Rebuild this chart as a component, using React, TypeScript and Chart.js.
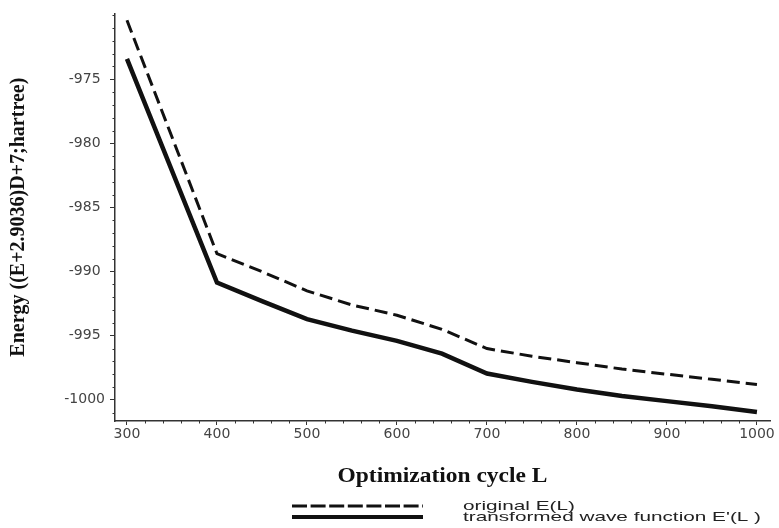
import React, { useEffect, useRef } from 'react';
import { Chart, registerables } from 'chart.js';

Chart.register(...registerables);

const cycles = [300, 400, 450, 500, 550, 600, 650, 700, 750, 800, 850, 900, 950, 1000];
const originalE = [-970.4, -988.6, -990.0, -991.5, -992.6, -993.4, -994.5, -996.0, -996.6, -997.1, -997.6, -998.0, -998.4, -998.8];
const transformedE = [-973.4, -990.85, -992.3, -993.7, -994.6, -995.4, -996.4, -997.95, -998.6, -999.2, -999.7, -1000.1, -1000.5, -1000.95];
const xTickValues = [300, 400, 500, 600, 700, 800, 900, 1000];
const yTickValues = [-1000, -995, -990, -985, -980, -975];
const seriesLabels = ['original E(L)', "transformed wave function E'(L )"];
const xTitle = 'Optimization cycle L';
const yTitle = 'Energy ((E+2.9036)D+7;hartree)';
const xMinorStep = 20;
const yMinorStep = 1;

const AXIS_COLOR = '#333';
const LINE_COLOR = '#111';

const minorTicksPlugin = {
  id: 'minorTicks',
  afterDraw(chart: any) {
    const ctx = chart.ctx;
    const xs = chart.scales.x;
    const ys = chart.scales.y;
    ctx.save();
    ctx.strokeStyle = AXIS_COLOR;
    ctx.lineWidth = 1;
    ctx.beginPath();
    for (let v = Math.ceil(xs.min / xMinorStep) * xMinorStep; v <= xs.max; v += xMinorStep) {
      if (xTickValues.includes(v)) continue;
      const px = Math.round(xs.getPixelForValue(v)) + 0.5;
      ctx.moveTo(px, xs.top);
      ctx.lineTo(px, xs.top + 2.5);
    }
    for (let v = Math.ceil(ys.min / yMinorStep) * yMinorStep; v <= ys.max; v += yMinorStep) {
      if (yTickValues.includes(v)) continue;
      const py = Math.round(ys.getPixelForValue(v)) + 0.5;
      ctx.moveTo(ys.right - 2.5, py);
      ctx.lineTo(ys.right, py);
    }
    ctx.stroke();
    ctx.restore();
  },
};

function stretchedText(ctx: any, text: string, x: number, y: number, targetWidth: number, align: 'left' | 'center') {
  const w = ctx.measureText(text).width;
  const sx = targetWidth / w;
  ctx.save();
  ctx.translate(x, y);
  ctx.scale(sx, 1);
  ctx.textAlign = align;
  ctx.fillText(text, 0, 0);
  ctx.restore();
}

const textPlugin = {
  id: 'customText',
  afterDraw(chart: any) {
    const ctx = chart.ctx;
    const area = chart.chartArea;
    ctx.save();
    // x-axis title
    ctx.fillStyle = '#111';
    ctx.font = 'bold 20px "Liberation Serif", "Times New Roman", serif';
    ctx.textBaseline = 'middle';
    stretchedText(ctx, xTitle, (area.left + area.right) / 2, 477, 210, 'center');

    // legend
    const rows = [506, 517];
    const x0 = 292;
    const x1 = 423;
    const tx = 463;
    chart.data.datasets.forEach((ds: any, i: number) => {
      const y = rows[i];
      ctx.strokeStyle = ds.borderColor;
      ctx.lineWidth = i === 0 ? 3 : 4;
      ctx.setLineDash(i === 0 ? [15, 3.6] : []);
      ctx.lineCap = 'butt';
      ctx.beginPath();
      ctx.moveTo(x0, y);
      ctx.lineTo(x1, y);
      ctx.stroke();
      ctx.setLineDash([]);
    });
    ctx.fillStyle = '#222';
    ctx.font = '13px "Liberation Sans", Arial, sans-serif';
    ctx.textBaseline = 'middle';
    const w1 = ctx.measureText(chart.data.datasets[1].label).width;
    const sx = 298 / w1;
    chart.data.datasets.forEach((ds: any, i: number) => {
      stretchedText(ctx, ds.label, tx, rows[i], ctx.measureText(ds.label).width * sx, 'left');
    });
    ctx.restore();
  },
};

export default function App() {
  const canvasRef = useRef<HTMLCanvasElement | null>(null);

  useEffect(() => {
    const canvas = canvasRef.current;
    if (!canvas) return;
    const chart = new Chart(canvas, {
      type: 'line',
      data: {
        datasets: [
          {
            label: seriesLabels[0],
            data: cycles.map((c, i) => ({ x: c, y: originalE[i] })),
            borderColor: LINE_COLOR,
            borderWidth: 3,
            borderDash: [13, 6],
            pointRadius: 0,
            tension: 0,
            fill: false,
          },
          {
            label: seriesLabels[1],
            data: cycles.map((c, i) => ({ x: c, y: transformedE[i] })),
            borderColor: LINE_COLOR,
            borderWidth: 4.5,
            pointRadius: 0,
            tension: 0,
            fill: false,
          },
        ],
      },
      options: {
        responsive: false,
        animation: false,
        events: [],
        layout: { padding: { left: 0, top: 7, right: 9, bottom: 0 } },
        plugins: {
          legend: { display: false },
          tooltip: { enabled: false },
        },
        scales: {
          x: {
            type: 'linear',
            min: 286.7,
            max: 1014.5,
            afterBuildTicks: (scale: any) => {
              scale.ticks = xTickValues.map((v) => ({ value: v }));
            },
            afterFit: (scale: any) => {
              scale.height = 107;
            },
            grid: {
              display: true,
              drawOnChartArea: false,
              drawTicks: true,
              tickLength: 4,
              color: AXIS_COLOR,
              lineWidth: 1,
            },
            border: { display: true, color: AXIS_COLOR, width: 1.5 },
            ticks: {
              color: '#444',
              padding: 1,
              maxRotation: 0,
              autoSkip: false,
              font: { family: '"DejaVu Sans", sans-serif', size: 14 },
              callback: (v: any) => String(v),
            },
          },
          y: {
            type: 'linear',
            min: -1001.65,
            max: -969.86,
            afterBuildTicks: (scale: any) => {
              scale.ticks = yTickValues.map((v) => ({ value: v }));
            },
            afterFit: (scale: any) => {
              scale.width = 115;
            },
            grid: {
              display: true,
              drawOnChartArea: false,
              drawTicks: true,
              tickLength: 5,
              color: AXIS_COLOR,
              lineWidth: 1,
            },
            border: { display: true, color: AXIS_COLOR, width: 1.5 },
            ticks: {
              color: '#444',
              padding: 5,
              crossAlign: 'center',
              autoSkip: false,
              font: { family: '"DejaVu Sans", sans-serif', size: 14 },
              callback: (v: any) => String(v),
            },
            title: {
              display: true,
              text: yTitle,
              color: '#111',
              font: { family: '"Liberation Serif", "Times New Roman", serif', size: 20, weight: 'bold' },
              padding: { top: 7, bottom: 0 },
            },
          },
        },
      },
      plugins: [minorTicksPlugin, textPlugin],
    } as any);
    return () => chart.destroy();
  }, []);

  return (
    <div style={{ position: 'absolute', left: 0, top: 0, width: 779, height: 528, background: '#fff' }}>
      <canvas ref={canvasRef} width={779} height={528} style={{ display: 'block' }} />
    </div>
  );
}
